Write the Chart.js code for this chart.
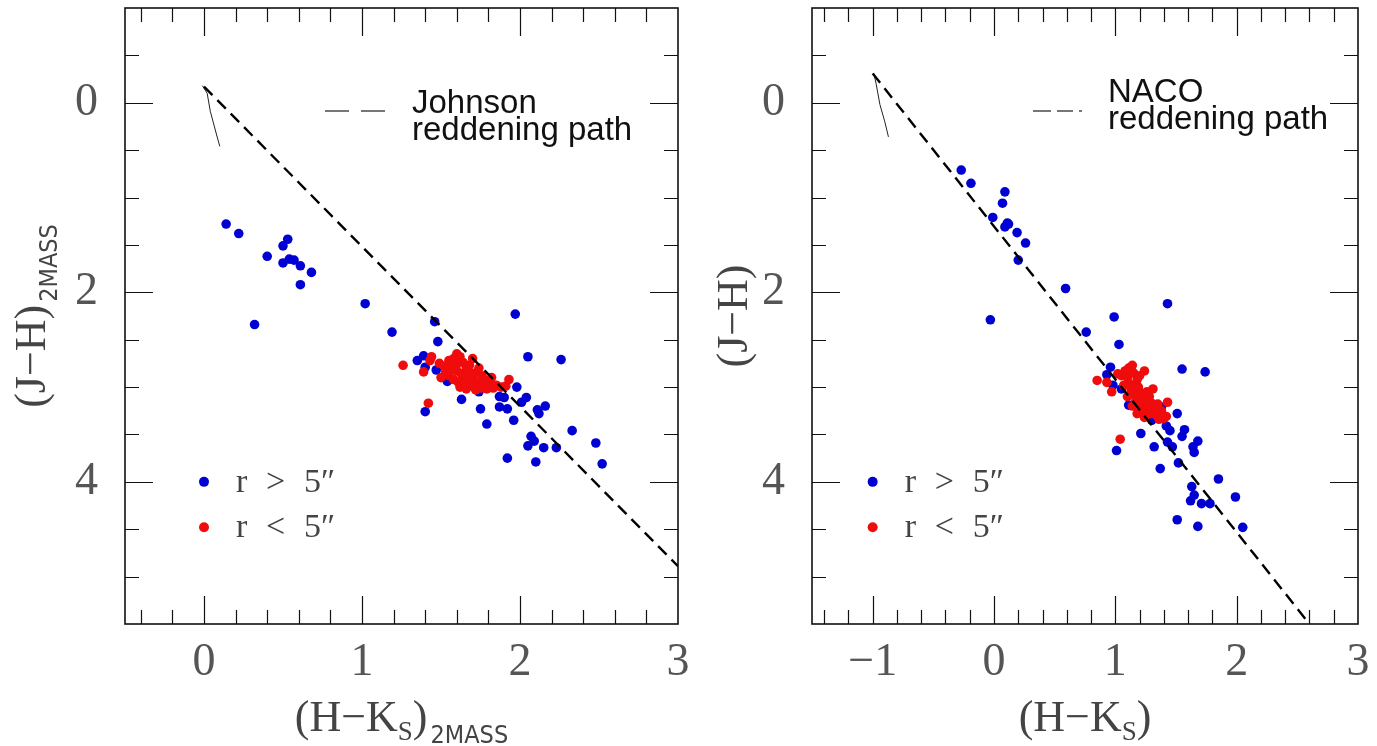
<!DOCTYPE html>
<html>
<head>
<meta charset="utf-8">
<script src="https://cdn.jsdelivr.net/npm/chart.js@4.4.1/dist/chart.umd.min.js"></script>
<style>
  html, body { margin: 0; padding: 0; background: #fff; }
  #wrap { position: relative; width: 1377px; height: 746px; overflow: hidden; }
  canvas { position: absolute; top: 0; }
  #leftPanel { left: 0; }
  #rightPanel { left: 690px; }
</style>
</head>
<body>
<div id="wrap">
  <canvas id="leftPanel" width="690" height="746"></canvas>
  <canvas id="rightPanel" width="687" height="746"></canvas>
</div>
<script>
// ---- data: [H-Ks, J-H] ----

// left panel, 2MASS photometry, r > 5"
const leftFar = [
  [0.14, 1.28], [0.22, 1.38], [0.53, 1.44], [0.50, 1.51], [0.40, 1.62], [0.54, 1.65],
  [0.50, 1.69], [0.57, 1.66], [0.61, 1.72], [0.68, 1.79], [0.61, 1.92], [0.32, 2.34],
  [1.02, 2.12], [1.19, 2.42], [1.46, 2.31], [1.48, 2.52], [1.97, 2.23], [2.05, 2.68],
  [2.26, 2.71], [1.35, 2.72], [1.39, 2.67], [1.40, 2.79], [1.47, 2.82], [1.54, 2.94],
  [1.98, 3.00], [1.63, 3.13], [1.74, 3.05], [1.87, 3.10], [1.90, 3.11], [2.01, 3.16],
  [2.04, 3.11], [1.75, 3.23], [1.87, 3.21], [1.92, 3.23], [1.40, 3.26], [1.79, 3.39],
  [1.96, 3.35], [2.11, 3.24], [2.16, 3.20], [2.12, 3.28], [2.33, 3.46], [2.07, 3.52],
  [2.09, 3.57], [2.05, 3.62], [2.15, 3.64], [2.23, 3.64], [2.48, 3.59], [1.92, 3.75],
  [2.10, 3.79], [2.52, 3.81]
];

// left panel, r < 5"
const leftNear = [
  [1.26, 2.77], [1.42, 3.17], [1.39, 2.84], [1.43, 2.72], [1.44, 2.68], [1.49, 2.75],
  [1.52, 2.78], [1.55, 2.72], [1.58, 2.70], [1.60, 2.65], [1.62, 2.68], [1.64, 2.74],
  [1.57, 2.80], [1.60, 2.83], [1.63, 2.86], [1.66, 2.80], [1.68, 2.77], [1.70, 2.70],
  [1.72, 2.85], [1.55, 2.88], [1.58, 2.92], [1.61, 2.95], [1.64, 2.91], [1.67, 2.93],
  [1.70, 2.90], [1.73, 2.95], [1.76, 2.88], [1.78, 2.93], [1.80, 2.97], [1.82, 2.90],
  [1.85, 2.98], [1.88, 3.00], [1.91, 2.99], [1.93, 2.92], [1.62, 3.00], [1.66, 3.02],
  [1.70, 2.99], [1.75, 3.01], [1.79, 3.02], [1.53, 2.84], [1.50, 2.90], [1.68, 2.85],
  [1.74, 2.80], [1.65, 2.96], [1.60, 2.76], [1.83, 3.01], [1.77, 2.98], [1.72, 3.03]
];

// right panel, NACO photometry, r > 5"
const rightFar = [
  [-0.27, 0.71], [-0.19, 0.85], [0.09, 0.94], [0.07, 1.06], [-0.01, 1.21], [0.11, 1.27],
  [0.09, 1.31], [0.12, 1.28], [0.19, 1.37], [0.26, 1.48], [0.20, 1.66], [-0.03, 2.29],
  [0.59, 1.96], [1.43, 2.12], [0.99, 2.26], [0.76, 2.42], [1.03, 2.55], [0.96, 2.79],
  [0.93, 2.87], [1.55, 2.81], [1.74, 2.84], [0.98, 2.98], [1.05, 3.02], [1.11, 3.19],
  [1.38, 3.21], [1.51, 3.28], [1.30, 3.35], [1.42, 3.41], [1.45, 3.46], [1.57, 3.45],
  [1.55, 3.52], [1.68, 3.57], [1.64, 3.63], [1.65, 3.69], [1.43, 3.58], [1.47, 3.63],
  [1.21, 3.49], [1.32, 3.63], [1.01, 3.67], [1.52, 3.80], [1.37, 3.86], [1.85, 3.97],
  [1.63, 4.05], [1.65, 4.14], [1.99, 4.16], [1.62, 4.20], [1.71, 4.23], [1.78, 4.23],
  [1.51, 4.40], [1.68, 4.47], [2.05, 4.48]
];

// right panel, r < 5"
const rightNear = [
  [0.85, 2.93], [1.04, 3.55], [0.97, 3.05], [0.93, 2.95], [1.14, 2.77], [1.24, 2.83],
  [1.31, 3.02], [1.43, 3.16], [1.42, 3.31], [1.05, 2.88], [1.08, 2.83], [1.10, 2.90],
  [1.12, 2.97], [1.15, 2.85], [1.18, 2.92], [1.13, 3.03], [1.16, 3.08], [1.19, 3.00],
  [1.21, 3.06], [1.23, 3.12], [1.17, 3.14], [1.20, 3.19], [1.25, 3.15], [1.27, 3.22],
  [1.22, 3.25], [1.29, 3.28], [1.32, 3.24], [1.34, 3.30], [1.30, 3.17], [1.26, 3.05],
  [1.10, 3.10], [1.14, 3.20], [1.18, 3.28], [1.24, 3.32], [1.36, 3.34], [1.38, 3.25],
  [1.07, 2.98], [1.02, 2.86], [1.11, 2.80], [1.28, 3.10], [1.20, 2.88], [1.35, 3.18],
  [1.40, 3.33], [1.16, 2.99]
];

// reddening paths and intrinsic sequences
const johnsonPathX = [0.0, 3.0];
const johnsonPathY = [-0.17, 4.89];
const nacoPathX = [-1.0, 2.6];
const nacoPathY = [-0.31, 5.5];
const leftSeqX = [-0.01, 0.02, 0.04, 0.08, 0.10];
const leftSeqY = [-0.18, -0.10, 0.09, 0.34, 0.46];
const rightSeqX = [-0.99, -0.97, -0.94, -0.90, -0.87];
const rightSeqY = [-0.31, -0.19, 0.02, 0.20, 0.36];

// tick labels
const leftXLabels = [0, 1, 2, 3];
const rightXLabels = [-1, 0, 1, 2, 3];
const yLabels = [0, 2, 4];
const X_MINOR = 0.2;
const Y_MINOR = 0.5;

const BLUE = 'rgb(0,0,210)';
const RED = 'rgb(240,12,12)';
const TICK_FONT = { family: 'Liberation Serif', size: 46 };
const SERIF = "'Liberation Serif', serif";
const NARROW = "'Liberation Sans Narrow', 'DejaVu Sans Condensed', 'Liberation Sans', sans-serif";

const toPts = arr => arr.map(p => ({ x: p[0], y: p[1] }));
const zip = (xs, ys) => xs.map((x, i) => ({ x: x, y: ys[i] }));
const near = (a, b) => Math.abs(a - b) < 1e-6;
const fmt = v => (v < 0 ? '\u2212' + Math.abs(v) : String(v));

// tick values strictly inside [min, max], multiples of step
function tickValues(min, max, step) {
  const out = [];
  for (let k = Math.ceil(min / step - 1e-9); k * step <= max + 1e-9; k++) {
    const v = Math.round(k * step * 1000) / 1000;
    if (!near(v, min) && !near(v, max)) out.push(v);
  }
  return out;
}

// draw a run of text pieces with different fonts / baseline shifts, centred on cx
function drawRuns(ctx, runs, cx, cy) {
  let total = 0;
  runs.forEach(r => { ctx.font = r.font; r.w = ctx.measureText(r.t).width; total += r.w + (r.gap || 0); });
  let x = cx - total / 2;
  runs.forEach(r => {
    ctx.font = r.font;
    x += r.gap || 0;
    ctx.fillText(r.t, x, cy + (r.dy || 0));
    x += r.w;
  });
}

const panelDecor = {
  id: 'panelDecor',
  beforeDatasetsDraw(chart, args, o) {
    const { ctx, chartArea: a, scales: { x, y } } = chart;
    ctx.save();
    ctx.strokeStyle = '#111';
    ctx.lineWidth = 1.2;
    ctx.beginPath();
    tickValues(x.min, x.max, X_MINOR).forEach(v => {
      const px = Math.round(x.getPixelForValue(v)) + 0.5;
      const len = near(v, Math.round(v)) ? 28 : 14;
      ctx.moveTo(px, a.bottom); ctx.lineTo(px, a.bottom - len);
      ctx.moveTo(px, a.top); ctx.lineTo(px, a.top + len);
    });
    tickValues(y.min, y.max, Y_MINOR).forEach(v => {
      const py = Math.round(y.getPixelForValue(v)) + 0.5;
      const len = yLabels.some(l => near(l, v)) ? 28 : 14;
      ctx.moveTo(a.left, py); ctx.lineTo(a.left + len, py);
      ctx.moveTo(a.right, py); ctx.lineTo(a.right - len, py);
    });
    ctx.stroke();
    ctx.lineWidth = 1.6;
    ctx.strokeRect(a.left, a.top, a.right - a.left, a.bottom - a.top);
    ctx.restore();
  },
  afterDraw(chart, args, o) {
    const { ctx, chartArea: a, scales: { x, y } } = chart;
    ctx.save();
    ctx.textBaseline = 'alphabetic';

    // path label
    ctx.fillStyle = '#111';
    ctx.font = "33px 'Liberation Sans', Arial, sans-serif";
    ctx.fillText(o.name, o.textX, o.nameY);
    ctx.fillText('reddening path', o.textX, o.nameY + 27);
    ctx.strokeStyle = '#777';
    ctx.lineWidth = 2;
    ctx.setLineDash(o.sampleDash);
    ctx.beginPath();
    ctx.moveTo(o.sampleX0, 111); ctx.lineTo(o.sampleX1, 111);
    ctx.stroke();
    ctx.setLineDash([]);

    // point legend
    const lx = x.getPixelForValue(o.legendX);
    [[4.0, BLUE, '>'], [4.48, RED, '<']].forEach(([yv, col, sym]) => {
      const py = y.getPixelForValue(yv);
      ctx.fillStyle = col;
      ctx.beginPath(); ctx.arc(lx, py, 5, 0, Math.PI * 2); ctx.fill();
      ctx.fillStyle = '#444';
      ctx.font = '34px ' + SERIF;
      ctx.fillText('r', lx + 32, py + 10);
      ctx.fillText(sym, lx + 62, py + 10);
      ctx.fillText('5\u2033', lx + 100, py + 10);
    });

    // axis titles
    ctx.fillStyle = '#444';
    drawRuns(ctx, o.xTitle, (a.left + a.right) / 2, 731);
    ctx.translate(o.yTitleX, (a.top + a.bottom) / 2);
    ctx.rotate(-Math.PI / 2);
    drawRuns(ctx, o.yTitle, 0, 0);
    ctx.restore();
  }
};

const noPad = s => { s.paddingTop = 0; s.paddingBottom = 0; s.paddingLeft = 0; s.paddingRight = 0; };

function makePanel(canvasId, p) {
  return new Chart(document.getElementById(canvasId), {
    type: 'scatter',
    data: {
      datasets: [
        { data: zip(p.pathX, p.pathY), showLine: true, borderColor: '#000', borderWidth: 2.4,
          borderDash: [12, 7], pointRadius: 0, order: 0 },
        { data: zip(p.seqX, p.seqY), showLine: true, borderColor: '#222', borderWidth: 1,
          pointRadius: 0, order: 0 },
        { data: toPts(p.near), backgroundColor: RED, pointBorderWidth: 0, pointRadius: 4.8, order: 1 },
        { data: toPts(p.far), backgroundColor: BLUE, pointBorderWidth: 0, pointRadius: 4.8, order: 2 }
      ]
    },
    options: {
      responsive: false,
      animation: false,
      events: [],
      layout: { padding: { top: 8, right: p.padRight, left: 0, bottom: 0 } },
      plugins: {
        legend: { display: false },
        tooltip: { enabled: false },
        panelDecor: p.decor
      },
      scales: {
        x: {
          type: 'linear', min: p.xMin, max: 3,
          grid: { display: false, drawTicks: false },
          border: { display: false },
          afterFit: s => { s.height = 122; noPad(s); },
          ticks: {
            stepSize: X_MINOR, maxTicksLimit: 100, autoSkip: false, maxRotation: 0,
            padding: 11, font: TICK_FONT, color: '#555',
            callback: v => (p.xLabels.some(l => near(l, v)) ? fmt(Math.round(v)) : null)
          }
        },
        y: {
          type: 'linear', min: -1, max: 5.5, reverse: true,
          grid: { display: false, drawTicks: false },
          border: { display: false },
          afterFit: s => { s.width = p.axisLeft; noPad(s); },
          ticks: {
            stepSize: Y_MINOR, maxTicksLimit: 100, autoSkip: false,
            padding: 27, font: TICK_FONT, color: '#555',
            callback: v => (yLabels.some(l => near(l, v)) ? fmt(Math.round(v)) : null)
          }
        }
      }
    },
    plugins: [panelDecor]
  });
}

const mainFont = '44px ' + SERIF;
const subFont = '27px ' + SERIF;
const massFont = '25px ' + NARROW;

makePanel('leftPanel', {
  far: leftFar, near: leftNear, pathX: johnsonPathX, pathY: johnsonPathY,
  seqX: leftSeqX, seqY: leftSeqY, xMin: -0.5, xLabels: leftXLabels,
  axisLeft: 125, padRight: 12,
  decor: {
    name: 'Johnson', textX: 412, nameY: 113, sampleX0: 325, sampleX1: 386, sampleDash: [24, 12],
    legendX: 0,
    xTitle: [{ t: '(H\u2212K', font: mainFont }, { t: 'S', font: subFont, dy: 9 },
             { t: ')', font: mainFont }, { t: '2MASS', font: massFont, dy: 12, gap: 3 }],
    yTitle: [{ t: '(J\u2212H)', font: mainFont }, { t: '2MASS', font: massFont, dy: 12, gap: 3 }],
    yTitleX: 45
  }
});

makePanel('rightPanel', {
  far: rightFar, near: rightNear, pathX: nacoPathX, pathY: nacoPathY,
  seqX: rightSeqX, seqY: rightSeqY, xMin: -1.5, xLabels: rightXLabels,
  axisLeft: 122, padRight: 19,
  decor: {
    name: 'NACO', textX: 418, nameY: 102, sampleX0: 343, sampleX1: 396, sampleDash: [18, 6, 16, 6, 3, 6],
    legendX: -1,
    xTitle: [{ t: '(H\u2212K', font: mainFont }, { t: 'S', font: subFont, dy: 9 },
             { t: ')', font: mainFont }],
    yTitle: [{ t: '(J\u2212H)', font: mainFont }],
    yTitleX: 57
  }
});
</script>
</body>
</html>
